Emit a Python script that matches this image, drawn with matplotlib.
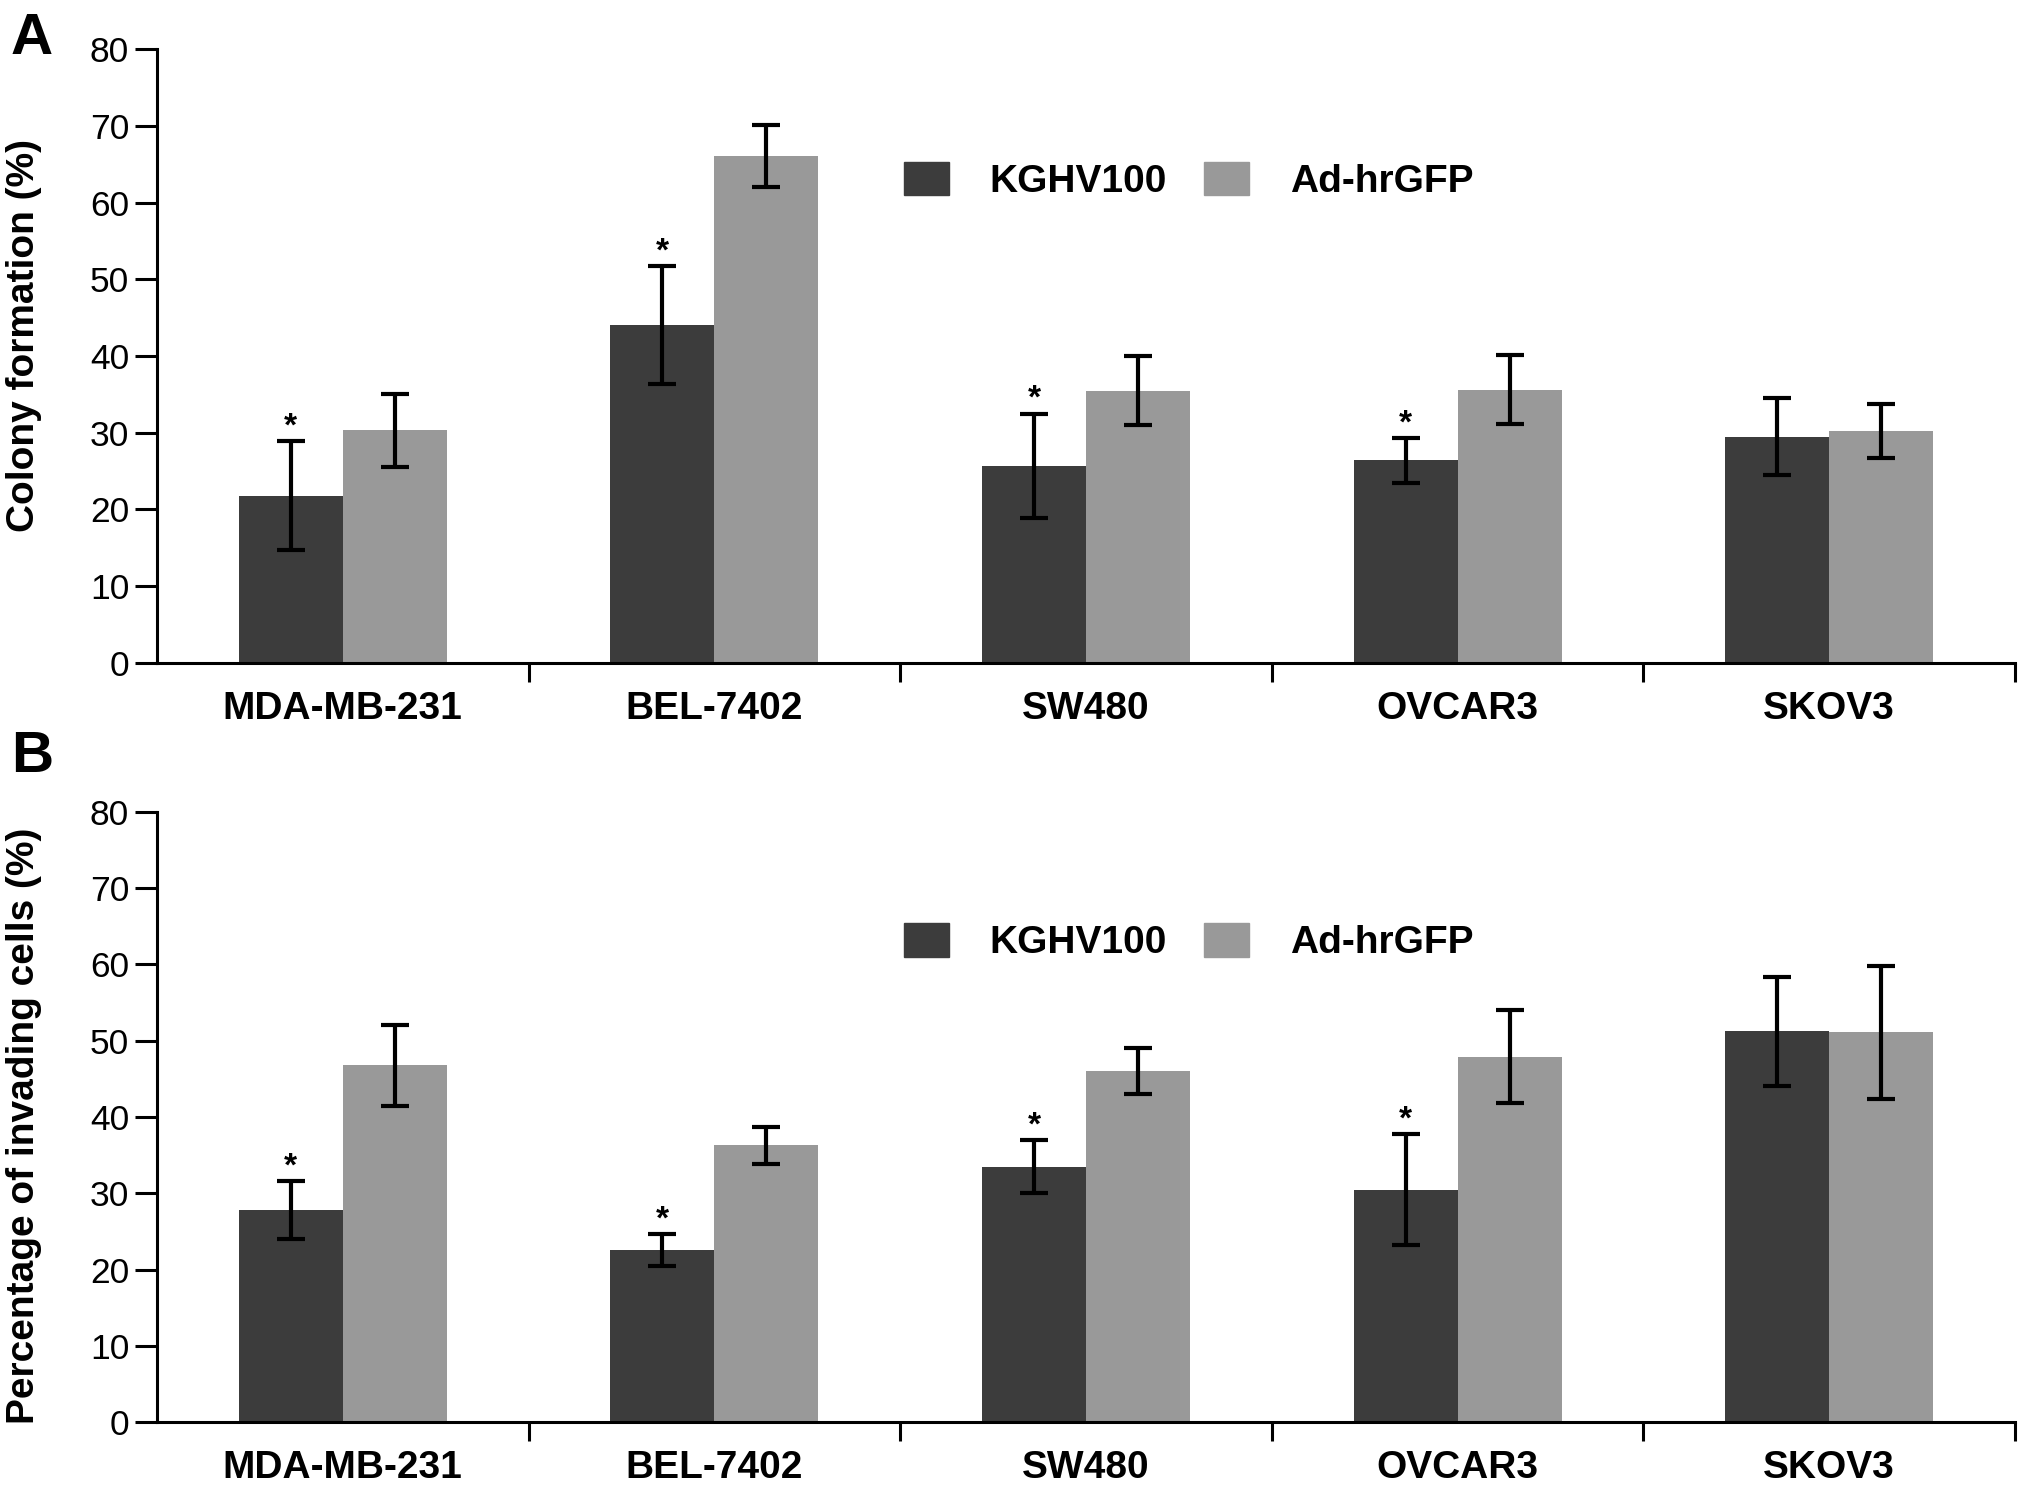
import matplotlib
matplotlib.use("Agg")
import matplotlib.pyplot as plt
import numpy as np
from matplotlib.patches import Patch

plt.rcParams['font.family'] = ['Liberation Sans', 'DejaVu Sans']

# cell lines and the two treatments
cell_lines = ["MDA-MB-231", "BEL-7402", "SW480", "OVCAR3", "SKOV3"]
series_names = ["KGHV100", "Ad-hrGFP"]

# panel A: colony formation (%)
colony_kghv = [21.8, 44.0, 25.7, 26.4, 29.5]
colony_kghv_err = [7.1, 7.7, 6.8, 2.9, 5.0]
colony_ad = [30.3, 66.1, 35.5, 35.6, 30.2]
colony_ad_err = [4.8, 4.0, 4.5, 4.5, 3.5]
colony_star = [True, True, True, True, False]

# panel B: percentage of invading cells (%)
invade_kghv = [27.8, 22.6, 33.5, 30.5, 51.2]
invade_kghv_err = [3.8, 2.1, 3.5, 7.3, 7.1]
invade_ad = [46.8, 36.3, 46.0, 47.9, 51.1]
invade_ad_err = [5.3, 2.4, 3.0, 6.1, 8.7]
invade_star = [True, True, True, True, False]

dark = '#3c3c3c'
light = '#999999'

fig = plt.figure(figsize=(20.31, 15.08), dpi=100)
axA = fig.add_axes([0.0773, 0.5605, 0.9148, 0.4067])
axB = fig.add_axes([0.0773, 0.0568, 0.9148, 0.4050])


def draw_panel(ax, v1, e1, v2, e2, stars, ylabel, ylabel_y):
    x = np.arange(len(cell_lines)) + 0.5
    w = 0.28
    ax.bar(x - w / 2, v1, width=w, color=dark, zorder=2)
    ax.bar(x + w / 2, v2, width=w, color=light, zorder=2)
    ax.errorbar(x - w / 2, v1, yerr=e1, fmt='none', ecolor='black',
                elinewidth=3, capsize=10, capthick=3, zorder=3)
    ax.errorbar(x + w / 2, v2, yerr=e2, fmt='none', ecolor='black',
                elinewidth=3, capsize=10, capthick=3, zorder=3)
    for xi, v, e, s in zip(x, v1, e1, stars):
        if s:
            ax.annotate('*', xy=(xi - w / 2, v + e), xytext=(0, -1),
                        textcoords='offset points', ha='center', va='bottom',
                        fontsize=24, fontweight='bold')

    ax.set_xlim(0, 5)
    ax.set_ylim(0, 80)
    ax.set_yticks(np.arange(0, 81, 10))
    ax.set_xticks(x)
    ax.set_xticklabels(cell_lines, fontsize=28, fontweight='bold')
    ax.set_xticks([1, 2, 3, 4, 5], minor=True)
    ax.tick_params(axis='x', which='major', length=0, pad=20)
    ax.tick_params(axis='x', which='minor', length=14, width=2.2, direction='out')
    ax.tick_params(axis='y', length=16, width=2.2, labelsize=25.5, pad=4)
    for side in ['top', 'right']:
        ax.spines[side].set_visible(False)
    for side in ['left', 'bottom']:
        ax.spines[side].set_linewidth(2.2)
    ax.set_ylabel(ylabel, fontsize=28, fontweight='bold')
    ax.yaxis.set_label_coords(-0.062, ylabel_y)

    handles = [Patch(color=dark), Patch(color=light)]
    ax.legend(handles, series_names, loc='center left',
              bbox_to_anchor=(0.402, 0.786), ncol=2, frameon=False,
              prop={'weight': 'bold', 'size': 28},
              handlelength=1.16, handleheight=0.95, handletextpad=1.05,
              columnspacing=0.95, borderpad=0, borderaxespad=0)


draw_panel(axA, colony_kghv, colony_kghv_err, colony_ad, colony_ad_err,
           colony_star, 'Colony formation (%)', 0.534)
draw_panel(axB, invade_kghv, invade_kghv_err, invade_ad, invade_ad_err,
           invade_star, 'Percentage of invading cells (%)', 0.486)

fig.text(11 / 2031, 1 - 12 / 1508, 'A', fontsize=42, fontweight='bold', va='top', ha='left')
fig.text(11 / 2031, 1 - 730 / 1508, 'B', fontsize=42, fontweight='bold', va='top', ha='left')

fig.savefig('out.png', dpi=100)
